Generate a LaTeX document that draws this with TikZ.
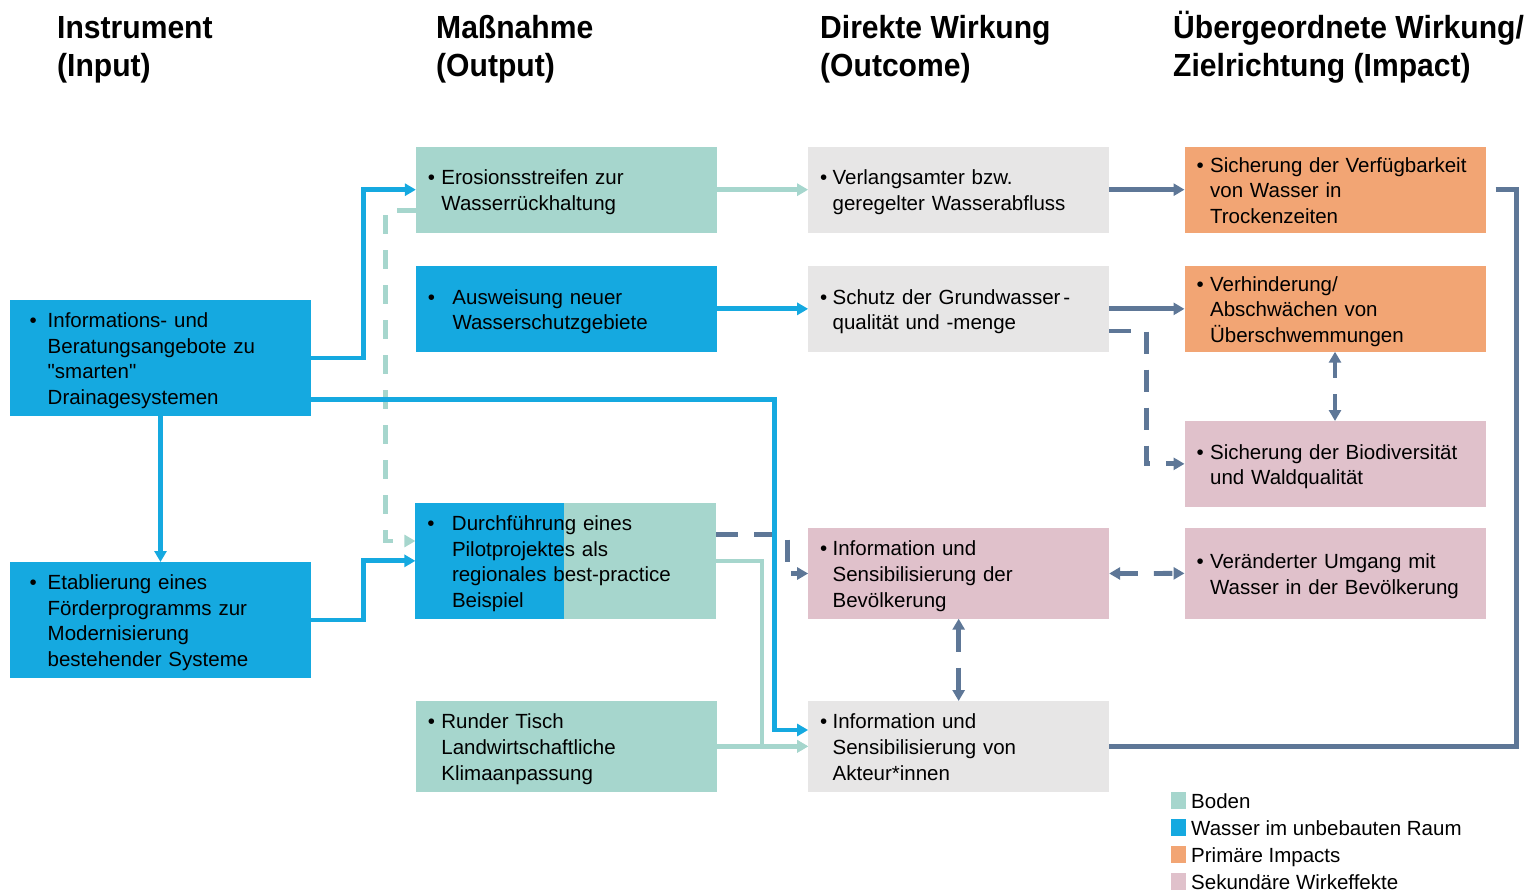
\documentclass[tikz,border=0pt]{standalone}
\usepackage{fontspec}
\setmainfont{Liberation Sans}
\newfontfamily\qf{Liberation Sans}[Ligatures=ResetAll]
\newfontfamily\titlefont{Liberation Sans}[FakeStretch=0.94]
\usetikzlibrary{arrows.meta}
\definecolor{cblue}{HTML}{15A9E0}
\definecolor{cgreen}{HTML}{A6D6CD}
\definecolor{cgray}{HTML}{E7E6E6}
\definecolor{corange}{HTML}{F2A574}
\definecolor{cpink}{HTML}{E0C1CB}
\definecolor{cslate}{HTML}{5E7797}
\newcommand{\bodyfont}{\fontsize{20.5}{25.7}\selectfont}
\newcommand{\bl}[3]{\raisebox{-3pt}[\height][\depth]{\begin{tabular}{@{}p{#2}@{}l@{}}\hspace*{#1}\textbullet&#3\end{tabular}}}
\newcommand{\ttl}[1]{\begin{tabular}[t]{@{}l@{}}#1\end{tabular}}
\tikzset{
  box/.style={rectangle, inner ysep=0pt, inner xsep=12pt, outer sep=0pt,
    text width=277pt, align=left, font=\bodyfont, text=black},
  title/.style={anchor=base west, inner sep=0pt,
    font={\titlefont\bfseries\fontsize{32}{38}\selectfont}},
  bline/.style={draw=cblue, line width=4.8pt, ->},
  gline/.style={draw=cgreen, line width=4.5pt, ->},
  sline/.style={draw=cslate, line width=4.8pt, ->},
  gdash/.style={gline, dash pattern=on 19pt off 16pt},
  sdash/.style={sline, dash pattern=on 22pt off 16pt},
  legsq/.style={rectangle, inner sep=0pt, minimum width=15pt, minimum height=17pt},
  legtx/.style={anchor=base west, inner sep=0pt, font=\bodyfont},
}
\begin{document}
\begin{tikzpicture}[x=1pt,y=-1pt,>={Triangle[length=11pt,width=12pt]}]
\useasboundingbox (0,0) rectangle (1528,891);

% titles
\node[title] (t1) at (57,38) {\ttl{Instrument\\(Input)}};
\node[title] (t2) at (436,38) {\ttl{Maßnahme\\(Output)}};
\node[title] (t3) at (820,38) {\ttl{Direkte Wirkung\\(Outcome)}};
\node[title] (t4) at (1173,38) {\ttl{Übergeordnete Wirkung/\\Zielrichtung (Impact)}};

% column 1
\node[box, fill=cblue, minimum height=116pt] (info) at (160.5,358)
  {\bl{7.7pt}{25.7pt}{Informations- und\\&Beratungsangebote zu\\&{\qf"}smarten{\qf"}\\&Drainagesystemen}};
\node[box, fill=cblue, minimum height=116pt] (etab) at (160.5,620)
  {\bl{7.7pt}{25.7pt}{Etablierung eines\\&Förderprogramms zur\\&Modernisierung\\&bestehender Systeme}};

% column 2
\node[box, fill=cgreen, minimum height=86pt] (eros) at (566.4,189.7)
  {\bl{0pt}{13.5pt}{Erosionsstreifen zur\\&Wasserrückhaltung}};
\node[box, fill=cblue, minimum height=85.7pt] (ausw) at (566.4,308.85)
  {\bl{0pt}{24.6pt}{Ausweisung neuer\\&Wasserschutzgebiete}};
\node[box, fill=cblue, minimum height=115.7pt,
  path picture={\fill[cgreen] ([xshift=148.3pt]path picture bounding box.north west) rectangle (path picture bounding box.south east);}]
  (durch) at (565.9,560.85)
  {\bl{0pt}{24.6pt}{Durchführung eines\\&Pilotprojektes als\\&regionales best-practice\\&Beispiel}};
\node[box, fill=cgreen, minimum height=90.7pt] (rund) at (566.4,746.35)
  {\bl{0pt}{13.5pt}{Runder Tisch\\&Landwirtschaftliche\\&Klimaanpassung}};

% column 3
\node[box, fill=cgray, minimum height=86pt] (verl) at (958.65,189.7)
  {\bl{0pt}{12.5pt}{Verlangsamter bzw.\\&geregelter Wasserabfluss}};
\node[box, fill=cgray, minimum height=85.7pt] (schutz) at (958.65,308.85)
  {\bl{0pt}{12.5pt}{Schutz der Grundwasser\kern3pt-\\&qualität und -menge}};
\node[box, fill=cpink, minimum height=90.4pt] (infob) at (958.65,573.5)
  {\bl{0pt}{12.5pt}{Information und\\&Sensibilisierung der\\&Bevölkerung}};
\node[box, fill=cgray, minimum height=90.7pt] (akt) at (958.65,746.35)
  {\bl{0pt}{12.5pt}{Information und\\&Sensibilisierung von\\&Akteur*innen}};

% column 4
\node[box, fill=corange, minimum height=86pt] (sich) at (1335,189.7)
  {\bl{0pt}{13.6pt}{Sicherung der Verfügbarkeit\\&von Wasser in\\&Trockenzeiten}};
\node[box, fill=corange, minimum height=85.7pt] (verh) at (1335,308.85)
  {\bl{0pt}{13.6pt}{Verhinderung/\\&Abschwächen von\\&Überschwemmungen}};
\node[box, fill=cpink, minimum height=85.7pt] (bio) at (1335,463.85)
  {\bl{0pt}{13.6pt}{Sicherung der Biodiversität\\&und Waldqualität}};
\node[box, fill=cpink, minimum height=90.7pt] (verand) at (1335,573.35)
  {\bl{0pt}{13.6pt}{Veränderter Umgang mit\\&Wasser in der Bevölkerung}};

% dashed connectors
\draw[gdash] ([yshift=-20.8pt]eros.west) -- ++(-30.5,0) |- ([yshift=19.85pt]durch.west);
\draw[sdash] ([yshift=26.35pt]durch.east) -- ++(70.8,0) |- (infob.west);
\draw[sdash] ([yshift=-22.15pt]schutz.east) -- ++(37.5,0) |- (bio.west);
\draw[sline, <->, dash pattern=on 16pt off 16pt] (verh.south) -- (bio.north);
\draw[sline, <->, dash pattern=on 18.5pt off 16pt] (infob.east) -- (verand.west);
\draw[sline, <->, dash pattern=on 22.5pt off 16pt] (infob.south) -- (akt.north);

% solid connectors
\draw[gline] (eros.east) -- (verl.west);
\draw[gline] (durch.east) -- ++(45.8,0) |- (akt.west);
\draw[gline] (rund.east) -- (akt.west);
\draw[sline] (verl.east) -- (sich.west);
\draw[sline] (schutz.east) -- (verh.west);
\draw[sline, -] ([xshift=10pt]sich.east) -- ++(21.3,0) |- (akt.east);
\draw[bline] (info.east) -- ++(52.5,0) |- (eros.west);
\draw[bline] ([yshift=-41.5pt]info.east) -| (774.5,730) -- ([yshift=16.35pt]akt.west);
\draw[bline] (info.south) -- (etab.north);
\draw[bline] (etab.east) -- ++(52.5,0) |- (durch.west);
\draw[bline] (ausw.east) -- (schutz.west);

% legend
\node[legsq, fill=cgreen] (l1) at (1178.5,800.5) {};
\node[legtx] (lt1) at (1191,808.3) {Boden};
\node[legsq, fill=cblue] (l2) at (1178.5,827.5) {};
\node[legtx] (lt2) at (1191,835.3) {Wasser im unbebauten Raum};
\node[legsq, fill=corange] (l3) at (1178.5,854.5) {};
\node[legtx] (lt3) at (1191,862.3) {Primäre Impacts};
\node[legsq, fill=cpink] (l4) at (1178.5,881.5) {};
\node[legtx] (lt4) at (1191,889.3) {Sekundäre Wirkeffekte};
\end{tikzpicture}
\end{document}
